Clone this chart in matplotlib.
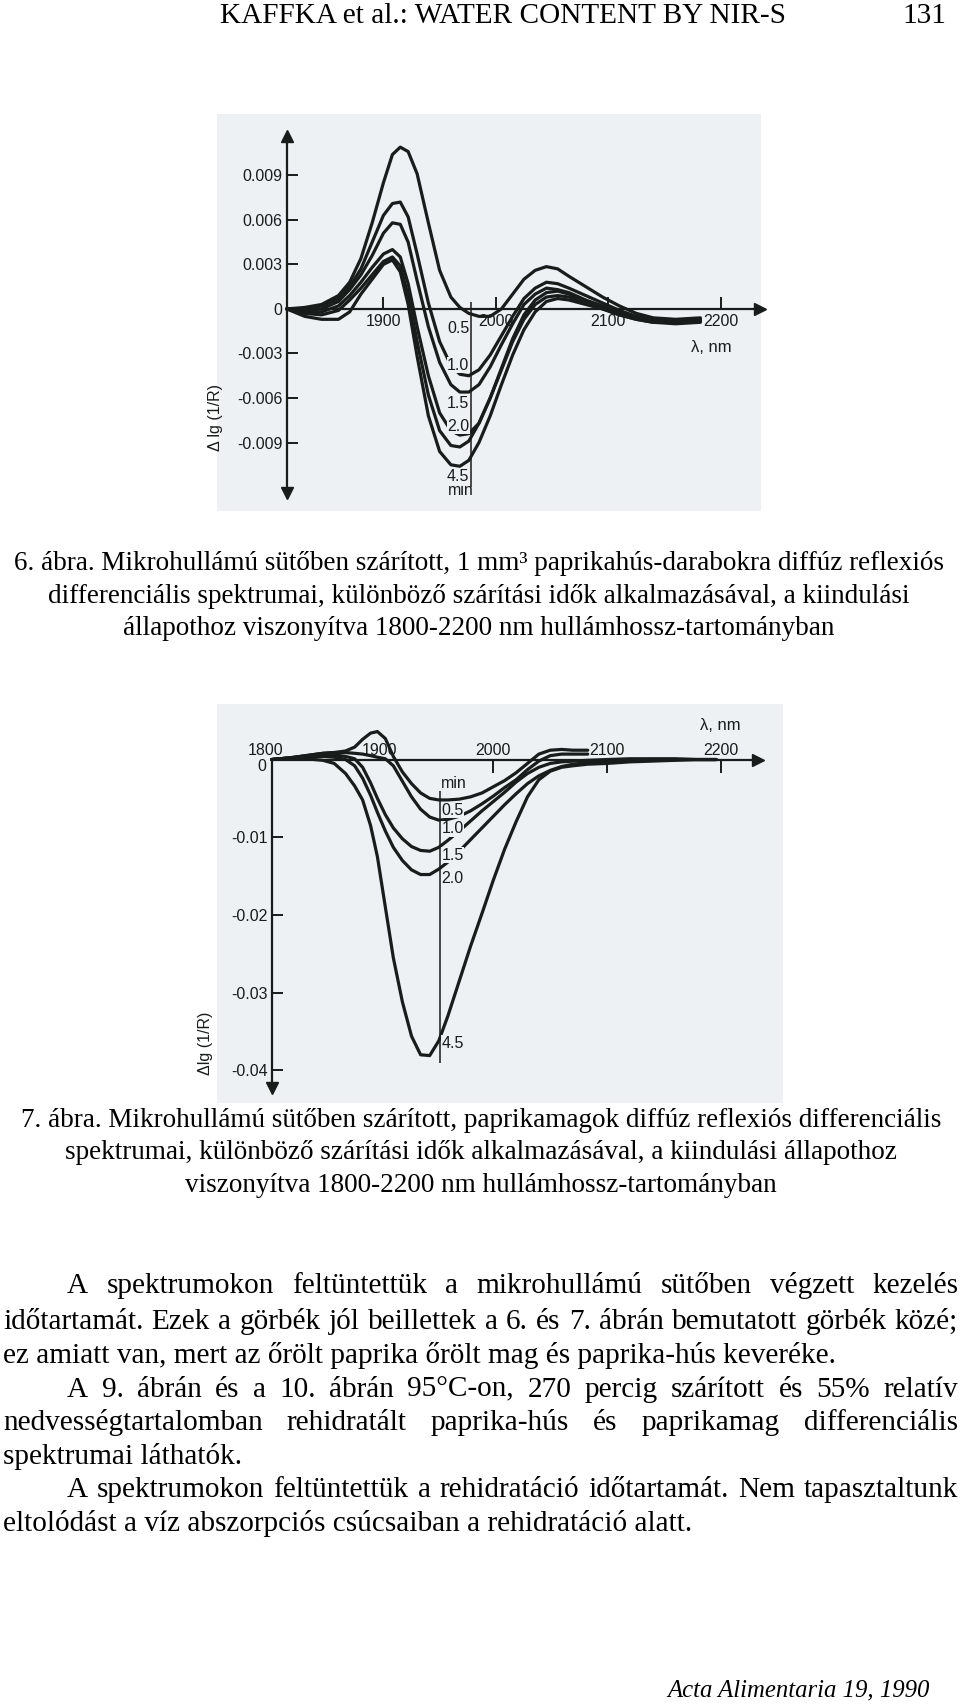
import numpy as np
import matplotlib
matplotlib.use('Agg')
import matplotlib.pyplot as plt
from matplotlib.patches import Rectangle

# --- 6. ábra: paprikahús, differential spectra (six curves, five labelled) ---
wl6 = [1814, 1830, 1845, 1860, 1870, 1880, 1890, 1900, 1908, 1915, 1922, 1930, 1940,
       1950, 1960, 1968, 1976, 1985, 1995, 2005, 2015, 2025, 2035, 2045, 2055, 2065,
       2080, 2095, 2110, 2125, 2140, 2160, 2182]
fig6_05 = [0, 0.0001, 0.0003, 0.0009, 0.0018, 0.0034, 0.0058, 0.0085, 0.0104, 0.0109, 0.0106,
           0.0091, 0.0058, 0.0026, 0.0008, 0.0001, -0.0003, -0.0005, -0.0005, 0.0000, 0.0010,
           0.0020, 0.0026, 0.00285, 0.0027, 0.0022, 0.0015, 0.0008, 0.0002, -0.0003, -0.0006,
           -0.0007, -0.0006]
fig6_10 = [0, 0.0000, 0.0002, 0.0007, 0.0015, 0.0027, 0.0045, 0.0063, 0.0071, 0.0072, 0.0062,
           0.0037, 0.0004, -0.0022, -0.0038, -0.0044, -0.0045, -0.0041, -0.0031, -0.0018, -0.0005,
           0.0007, 0.0014, 0.0018, 0.0017, 0.0014, 0.0009, 0.0004, -0.0001, -0.0005, -0.0007,
           -0.0008, -0.0007]
fig6_15 = [0, -0.0001, 0.0000, 0.0005, 0.0013, 0.0023, 0.0036, 0.0051, 0.0058, 0.0057, 0.0045,
           0.0019, -0.0012, -0.0036, -0.0051, -0.0056, -0.0056, -0.0051, -0.0039, -0.0024, -0.0010,
           0.0003, 0.0010, 0.0014, 0.0013, 0.0011, 0.0006, 0.0002, -0.0002, -0.0006, -0.0008,
           -0.0008, -0.0007]
fig6_20 = [0, -0.0002, -0.0002, 0.0002, 0.0009, 0.0018, 0.0028, 0.0037, 0.0040, 0.0035, 0.0017,
           -0.0012, -0.0045, -0.0070, -0.0082, -0.0085, -0.0084, -0.0077, -0.0060, -0.0040, -0.0020,
           -0.0004, 0.0006, 0.0011, 0.0012, 0.0010, 0.0005, 0.0001, -0.0003, -0.0006, -0.0008,
           -0.0009, -0.0008]
fig6_x = [0, -0.0003, -0.0004, -0.0001, 0.0006, 0.0014, 0.0023, 0.0032, 0.0035, 0.0029, 0.0009,
          -0.0022, -0.0058, -0.0082, -0.0092, -0.0093, -0.0089, -0.0077, -0.0060, -0.0041, -0.0022,
          -0.0007, 0.0003, 0.0008, 0.0009, 0.0008, 0.0004, 0.0000, -0.0004, -0.0007, -0.0009,
          -0.0009, -0.0008]
fig6_45 = [0, -0.0005, -0.0007, -0.0007, -0.0002, 0.0010, 0.0020, 0.0030, 0.0033, 0.0025, 0.0003,
           -0.0032, -0.0072, -0.0096, -0.0105, -0.0106, -0.0102, -0.0090, -0.0072, -0.0051, -0.0031,
           -0.0014, -0.0002, 0.0005, 0.0007, 0.0006, 0.0003, 0.0000, -0.0004, -0.0007, -0.0009,
           -0.0010, -0.0009]
ticks6_x = [1900, 2000, 2100, 2200]
ticks6_y = [0.009, 0.006, 0.003, 0, -0.003, -0.006, -0.009]
ticklabels6_y = ['0.009', '0.006', '0.003', '0', '-0.003', '-0.006', '-0.009']
times6 = ['0.5', '1.0', '1.5', '2.0', '4.5']

# --- 7. ábra: paprikamag ---
nan = np.nan
wl7 = [1805, 1820, 1835, 1850, 1860, 1870, 1878, 1885, 1892, 1898, 1905, 1912, 1920, 1928,
       1936, 1944, 1952, 1960, 1970, 1980, 1990, 2000, 2010, 2020, 2030, 2040, 2050, 2060,
       2070, 2083, 2100, 2120, 2140, 2160, 2180, 2196]
fig7_05 = [0, 0.0002, 0.0005, 0.0008, 0.0009, 0.0011, 0.0016, 0.0026, 0.0034, 0.0036, 0.0027,
           0.0004, -0.0016, -0.0031, -0.0043, -0.0050, -0.0052, -0.0052, -0.0051, -0.0048, -0.0043,
           -0.0035, -0.0027, -0.0017, -0.0005, 0.0007, 0.0012, 0.0013, 0.0012, 0.0012,
           nan, nan, nan, nan, nan, nan]
fig7_10 = [0, 0.0002, 0.0005, 0.0008, 0.0009, 0.0009, 0.0008, 0.0007, 0.0005, 0.0003, 0.0001,
           -0.0008, -0.0028, -0.0048, -0.0064, -0.0074, -0.0078, -0.0077, -0.0073, -0.0066, -0.0057,
           -0.0047, -0.0036, -0.0026, -0.0013, -0.0002, 0.0005, 0.0007, 0.0007, 0.0007,
           nan, nan, nan, nan, nan, nan]
fig7_15 = [0, 0.0002, 0.0004, 0.0006, 0.0006, 0.0004, 0.0001, -0.0010, -0.0030, -0.0050, -0.0071,
           -0.0088, -0.0102, -0.0112, -0.0117, -0.0118, -0.0113, -0.0104, -0.0092, -0.0079, -0.0066,
           -0.0054, -0.0042, -0.0029, -0.0018, -0.0010, -0.0005, -0.0003, -0.0002, -0.0001,
           0.0000, 0.0001, 0.0001, 0.0001, 0.0000, 0.0000]
fig7_20 = [0, 0.0002, 0.0003, 0.0004, 0.0003, 0.0000, -0.0008, -0.0024, -0.0046, -0.0068, -0.0092,
           -0.0113, -0.0130, -0.0142, -0.0148, -0.0148, -0.0141, -0.0132, -0.0118, -0.0103, -0.0088,
           -0.0073, -0.0058, -0.0044, -0.0031, -0.0021, -0.0014, -0.0009, -0.0006, -0.0004,
           -0.0002, -0.0001, 0.0000, 0.0000, 0.0000, 0.0000]
fig7_45 = [0, 0.0001, 0.0001, -0.0001, -0.0005, -0.0018, -0.0034, -0.0052, -0.0085, -0.0125, -0.0190,
           -0.0255, -0.0312, -0.0356, -0.0380, -0.0381, -0.0362, -0.0330, -0.0285, -0.0240, -0.0198,
           -0.0155, -0.0115, -0.0080, -0.0048, -0.0026, -0.0015, -0.0010, -0.0008, -0.0006,
           -0.0005, -0.0003, -0.0002, -0.0001, 0.0000, 0.0000]
ticks7_x = [1800, 1900, 2000, 2100, 2200]
ticks7_y = [-0.01, -0.02, -0.03, -0.04]
ticklabels7_y = ['-0.01', '-0.02', '-0.03', '-0.04']
times7 = ['0.5', '1.0', '1.5', '2.0', '4.5']

header = 'KAFFKA et al.: WATER CONTENT BY NIR-S'
page_no = '131'
caption6 = ['6. ábra. Mikrohullámú sütőben szárított, 1 mm³ paprikahús-darabokra diffúz reflexiós',
            'differenciális spektrumai, különböző szárítási idők alkalmazásával, a kiindulási',
            'állapothoz viszonyítva 1800-2200 nm hullámhossz-tartományban']
caption7 = ['7. ábra. Mikrohullámú sütőben szárított, paprikamagok diffúz reflexiós differenciális',
            'spektrumai, különböző szárítási idők alkalmazásával, a kiindulási állapothoz',
            'viszonyítva 1800-2200 nm hullámhossz-tartományban']
body = ['A spektrumokon feltüntettük a mikrohullámú sütőben végzett kezelés',
        'időtartamát. Ezek a görbék jól beillettek a 6. és 7. ábrán bemutatott görbék közé;',
        'ez amiatt van, mert az őrölt paprika őrölt mag és paprika-hús keveréke.',
        'A 9. ábrán és a 10. ábrán 95°C-on, 270 percig szárított és 55% relatív',
        'nedvességtartalomban rehidratált paprika-hús és paprikamag differenciális',
        'spektrumai láthatók.',
        'A spektrumokon feltüntettük a rehidratáció időtartamát. Nem tapasztaltunk',
        'eltolódást a víz abszorpciós csúcsaiban a rehidratáció alatt.']
footer = 'Acta Alimentaria 19, 1990'

# ---------------------------------------------------------------
W, H = 960, 1704
INK = '#181c1a'
BG = '#eef1f4'
SERIF = 'Liberation Serif'
plt.rcParams['font.family'] = ['Liberation Sans', 'DejaVu Sans']

fig = plt.figure(figsize=(W / 100, H / 100), dpi=100)
fig.patch.set_facecolor('white')


def px_axes(left, top, right, bottom):
    return fig.add_axes([left / W, 1 - bottom / H, (right - left) / W, (bottom - top) / H])


def scan_bg(left, top, right, bottom):
    fig.patches.append(Rectangle((left / W, 1 - bottom / H), (right - left) / W, (bottom - top) / H,
                                 transform=fig.transFigure, facecolor=BG, edgecolor='none', zorder=-5))


def style_axes(ax):
    ax.patch.set_visible(False)
    ax.spines[['top', 'right', 'bottom', 'left']].set_linewidth(1.6)
    ax.spines[['top', 'right', 'bottom', 'left']].set_color(INK)
    ax.tick_params(direction='in', length=8, width=1.4, color=INK, labelcolor=INK, labelsize=11.5)


lab_box = dict(fc=BG, ec='none', pad=0.3)
line_kw = dict(color=INK, lw=2.3, solid_joinstyle='round', solid_capstyle='round')

# ---- figure 6 ----
scan_bg(217, 114, 761, 511)
ax = px_axes(271, 136, 760, 493)
ax.set_xlim(1800, 2235)
ax.set_ylim(-0.0124, 0.01165)
style_axes(ax)
for c in [fig6_05, fig6_10, fig6_15, fig6_20, fig6_x, fig6_45]:
    ax.plot(wl6, c, **line_kw)
ax.spines[['top', 'right']].set_visible(False)
ax.spines['left'].set_position(('data', 1814))
ax.spines['bottom'].set_position(('data', 0))
ax.spines['left'].set_bounds(-0.0124, 0.01165)
ax.spines['bottom'].set_bounds(1814, 2235)
ax.set_xticks(ticks6_x, [str(v) for v in ticks6_x])
ax.set_yticks(ticks6_y, ticklabels6_y)
ax.tick_params(axis='x', length=9, pad=4)
ax.tick_params(axis='y', pad=3)
ax.plot(1, 0, '>', ms=9, color=INK, transform=ax.get_yaxis_transform(), clip_on=False)
ax.plot(1814, 1, '^', ms=9, color=INK, transform=ax.get_xaxis_transform(), clip_on=False)
ax.plot(1814, 0, 'v', ms=9, color=INK, transform=ax.get_xaxis_transform(), clip_on=False)
ax.vlines(1978, -0.012, 0.0005, color=INK, lw=1.1)
for t, y in zip(times6, [-0.0013, -0.0038, -0.0064, -0.0079, -0.0113]):
    ax.text(1976.5, y, t, ha='right', va='center', fontsize=11.5, color=INK, bbox=lab_box, zorder=4)
ax.text(1969, -0.01225, 'min', ha='center', va='center', fontsize=11.5, color=INK)
ax.text(2192, -0.0026, 'λ, nm', ha='center', va='center', fontsize=12, color=INK)
ax.text(1751, -0.0073, 'Δ lg (1/R)', rotation=90, ha='center', va='center', fontsize=11.5, color=INK)

# ---- figure 7 ----
scan_bg(217, 704, 783, 1103)
ax = px_axes(254.6, 716.8, 758.3, 1088.2)
ax.set_xlim(1790, 2233)
ax.set_ylim(-0.0423, 0.0055)
style_axes(ax)
for c in [fig7_05, fig7_10, fig7_15, fig7_20, fig7_45]:
    ax.plot(wl7, c, **line_kw)
ax.spines[['bottom', 'right']].set_visible(False)
ax.spines['left'].set_position(('data', 1805))
ax.spines['top'].set_position(('data', 0))
ax.spines['left'].set_bounds(-0.0423, 0)
ax.spines['top'].set_bounds(1805, 2233)
ax.xaxis.set_ticks_position('top')
ax.set_xticks(ticks7_x, [str(v) for v in ticks7_x])
ax.set_yticks(ticks7_y, ticklabels7_y)
ax.tick_params(axis='x', length=9, pad=1)
ax.tick_params(axis='y', pad=3)
for tk in ax.xaxis.get_major_ticks()[:2]:
    tk.tick2line.set_visible(False)
ax.text(1800, -0.0009, '0', ha='right', va='center', fontsize=11.5, color=INK)
ax.plot(1, 0, '>', ms=9, color=INK, transform=ax.get_yaxis_transform(), clip_on=False)
ax.plot(1805, 0, 'v', ms=9, color=INK, transform=ax.get_xaxis_transform(), clip_on=False)
ax.vlines(1953, -0.039, -0.0040, color=INK, lw=1.1)
for t, y in zip(times7, [-0.0065, -0.0089, -0.0123, -0.0153, -0.0365]):
    ax.text(1954.5, y, t, ha='left', va='center', fontsize=11.5, color=INK, bbox=lab_box, zorder=4)
ax.text(1954, -0.0031, 'min', ha='left', va='center', fontsize=11.5, color=INK)
ax.text(2200, 0.0044, 'λ, nm', ha='center', va='center', fontsize=12, color=INK)
ax.text(1747, -0.0365, 'Δlg (1/R)', rotation=90, ha='center', va='center', fontsize=11.5, color=INK)

# ---- page text ----
renderer = fig.canvas.get_renderer()


def text_w(s, size, style='normal'):
    t = fig.text(0, 0, s, family=SERIF, size=size, style=style)
    w = t.get_window_extent(renderer=renderer).width
    t.remove()
    return w


def put(x, y, s, size, ha='left', style='normal'):
    # y is the visual middle of the line in pixels; convert to a baseline
    base = y + 0.30 * size * 100 / 72
    fig.text(x / W, 1 - base / H, s, family=SERIF, size=size, ha=ha, va='baseline',
             style=style, color='black')


def justified(x0, x1, y, s, size):
    words = s.split()
    ws = [text_w(w, size) for w in words]
    gap = (x1 - x0 - sum(ws)) / (len(words) - 1)
    x = x0
    for w, wd in zip(words, ws):
        put(x, y, w, size)
        x += wd + gap


fs = 20 * 833 / text_w(body[2], 20)
fs_cap = fs * 932 / text_w(caption6[0], fs)
fs_foot = fs * 262 / text_w(footer, fs, 'italic')

put(503, 14, header, fs, ha='center')
put(946, 14, page_no, fs, ha='right')
for y, s in zip([562, 595, 627], caption6):
    put(479, y, s, fs_cap, ha='center')
for y, s in zip([1119, 1151, 1184], caption7):
    put(481, y, s, fs_cap, ha='center')

body_y = [1284, 1320, 1354, 1388, 1421, 1455, 1488, 1522]
indent = {0, 3, 6}
full = {0, 1, 3, 4, 6}
for i, (y, s) in enumerate(zip(body_y, body)):
    x0 = 67 if i in indent else 3
    if i in full:
        justified(x0, 958, y, s, fs)
    else:
        put(x0, y, s, fs)

put(930, 1689, footer, fs_foot, ha='right', style='italic')

fig.savefig('out.png', dpi=100, facecolor='white')
